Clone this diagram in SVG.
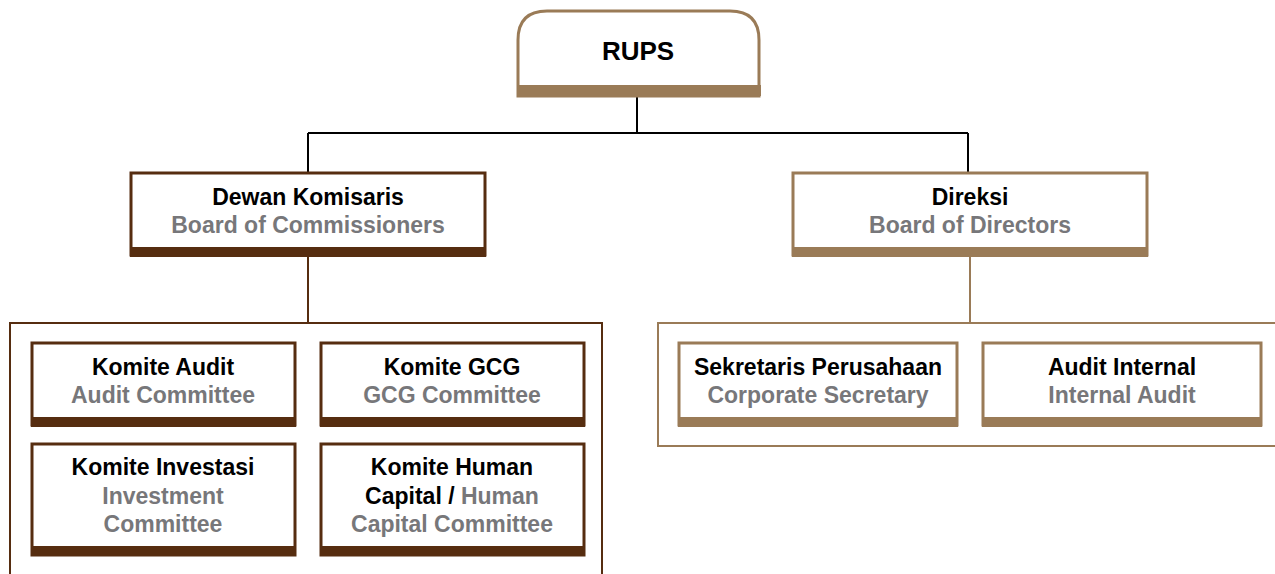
<svg xmlns="http://www.w3.org/2000/svg" width="1275" height="574" viewBox="0 0 1275 574">
<style>
text{font-family:"Liberation Sans",Arial,sans-serif;font-weight:bold;font-size:23px;text-anchor:middle}
.b{fill:#000}
.g{fill:#77777a}
.dk{fill:#fff;stroke:#562d10;stroke-width:3}
.tn{fill:#fff;stroke:#9a7b57;stroke-width:3}
.bdk{fill:#562d10}
.btn{fill:#9a7b57}
</style>
<rect width="1275" height="574" fill="#fff"/>
<g id="connectors" fill="none" stroke-width="2">
<path d="M637 96V133M308 133H968M308 133V172M968 133V172" stroke="#000"/>
<path d="M308 257V323" stroke="#562d10"/>
<path d="M970 257V323" stroke="#9a7b57"/>
</g>
<g id="group-commissioners">
<rect x="10" y="323" width="592" height="270" fill="none" stroke="#562d10" stroke-width="2"/>
</g>
<g id="group-directors">
<rect x="658" y="323" width="640" height="123" fill="none" stroke="#9a7b57" stroke-width="2"/>
</g>
<g id="rups">
<path d="M518 96V40Q518 11 547 11H730Q759 11 759 40V96Z" class="tn"/>
<rect x="517" y="85" width="244" height="11" class="btn"/>
<text x="638" y="60" font-size="26" class="b" style="font-size:26px">RUPS</text>
</g>
<g id="dewan">
<rect x="131" y="173" width="354" height="82" class="dk"/>
<rect x="130" y="247" width="356" height="10" class="bdk"/>
<text x="308" y="205" class="b">Dewan Komisaris</text>
<text x="308" y="233" class="g">Board of Commissioners</text>
</g>
<g id="direksi">
<rect x="793" y="173" width="354" height="82" class="tn"/>
<rect x="792" y="247" width="356" height="10" class="btn"/>
<text x="970" y="205" class="b">Direksi</text>
<text x="970" y="233" class="g">Board of Directors</text>
</g>
<g id="komite-audit">
<rect x="32" y="343" width="263" height="82" class="dk"/>
<rect x="31" y="417" width="265" height="10" class="bdk"/>
<text x="163" y="375" class="b">Komite Audit</text>
<text x="163" y="403" class="g">Audit Committee</text>
</g>
<g id="komite-gcg">
<rect x="321" y="343" width="263" height="82" class="dk"/>
<rect x="320" y="417" width="265" height="10" class="bdk"/>
<text x="452" y="375" class="b">Komite GCG</text>
<text x="452" y="403" class="g">GCG Committee</text>
</g>
<g id="komite-investasi">
<rect x="32" y="444" width="263" height="111" class="dk"/>
<rect x="31" y="546" width="265" height="10" class="bdk"/>
<text x="163" y="475" class="b">Komite Investasi</text>
<text x="163" y="504" class="g">Investment</text>
<text x="163" y="532" class="g">Committee</text>
</g>
<g id="komite-hc">
<rect x="321" y="444" width="263" height="111" class="dk"/>
<rect x="320" y="546" width="265" height="10" class="bdk"/>
<text x="452" y="475" class="b">Komite Human</text>
<text x="452" y="504"><tspan class="b">Capital / </tspan><tspan class="g">Human</tspan></text>
<text x="452" y="532" class="g">Capital Committee</text>
</g>
<g id="sekretaris">
<rect x="679" y="343" width="278" height="82" class="tn"/>
<rect x="678" y="417" width="280" height="10" class="btn"/>
<text x="818" y="375" class="b">Sekretaris Perusahaan</text>
<text x="818" y="403" class="g">Corporate Secretary</text>
</g>
<g id="audit-internal">
<rect x="983" y="343" width="278" height="82" class="tn"/>
<rect x="982" y="417" width="280" height="10" class="btn"/>
<text x="1122" y="375" class="b">Audit Internal</text>
<text x="1122" y="403" class="g">Internal Audit</text>
</g>
</svg>
